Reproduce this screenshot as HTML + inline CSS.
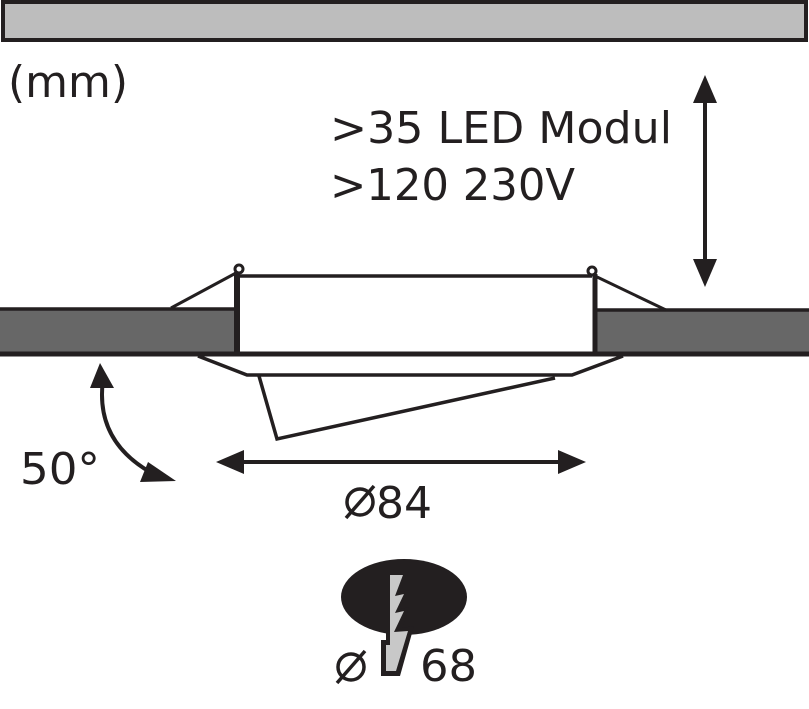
<!DOCTYPE html>
<html><head><style>html,body{margin:0;padding:0;background:#fff}svg{display:block}</style></head><body>
<svg width="809" height="709" viewBox="0 0 809 709" xmlns="http://www.w3.org/2000/svg" font-family="'DejaVu Sans Condensed','DejaVu Sans','Liberation Sans',sans-serif" fill="#231f20">
<rect x="3" y="2" width="803" height="38" fill="#bdbdbd" stroke="#231f20" stroke-width="4"/>
<text x="8" y="97" font-size="44" textLength="120" lengthAdjust="spacingAndGlyphs">(mm)</text>
<text x="330" y="143" font-size="44" textLength="342" lengthAdjust="spacingAndGlyphs">&gt;35 LED Modul</text>
<text x="330" y="200" font-size="44" textLength="245" lengthAdjust="spacingAndGlyphs">&gt;120 230V</text>
<line x1="705" y1="95" x2="705" y2="268" stroke="#231f20" stroke-width="4"/>
<polygon points="705,75 693,103 717,103"/>
<polygon points="705,287 693,259 717,259"/>
<rect x="0" y="309" width="236" height="45" fill="#676767"/>
<rect x="597" y="310" width="212" height="44" fill="#676767"/>
<line x1="0" y1="309" x2="236" y2="309" stroke="#231f20" stroke-width="3.5"/>
<line x1="597" y1="310" x2="809" y2="310" stroke="#231f20" stroke-width="3.5"/>
<line x1="0" y1="354" x2="809" y2="354" stroke="#231f20" stroke-width="5"/>
<line x1="240" y1="276" x2="592" y2="276" stroke="#231f20" stroke-width="3.5"/>
<line x1="237" y1="272" x2="237" y2="355" stroke="#231f20" stroke-width="6"/>
<line x1="595" y1="274" x2="595" y2="355" stroke="#231f20" stroke-width="5"/>
<circle cx="239" cy="269" r="4" fill="#fff" stroke="#231f20" stroke-width="3"/>
<circle cx="592" cy="271" r="4" fill="#fff" stroke="#231f20" stroke-width="3"/>
<line x1="236" y1="273" x2="171" y2="308" stroke="#231f20" stroke-width="3"/>
<line x1="595" y1="276" x2="666" y2="310" stroke="#231f20" stroke-width="3"/>
<polyline points="198,356 247,375 572,375 623,356" fill="none" stroke="#231f20" stroke-width="3.5"/>
<polyline points="259,376 277,439 555,378" fill="none" stroke="#231f20" stroke-width="3.5"/>
<path d="M103,380 Q95,440 150,472" fill="none" stroke="#231f20" stroke-width="4"/>
<polygon points="100,363 90,388 114,388"/>
<polygon points="176,481 148,462 140,482"/>
<text x="20" y="484" font-size="44" textLength="80" lengthAdjust="spacingAndGlyphs">50°</text>
<line x1="235" y1="462" x2="568" y2="462" stroke="#231f20" stroke-width="4"/>
<polygon points="216,462 244,450 244,474"/>
<polygon points="586,462 558,450 558,474"/>
<circle cx="360" cy="502" r="13" fill="none" stroke="#231f20" stroke-width="3.5"/>
<line x1="346" y1="518" x2="374" y2="486" stroke="#231f20" stroke-width="3.5"/>
<text x="376" y="518" font-size="44" textLength="56" lengthAdjust="spacingAndGlyphs">84</text>
<ellipse cx="404" cy="597" rx="63" ry="38"/>
<polygon points="386,571 409,571 401,592 409,590 401,609 409,607 402,628 414,626 400,676 381,676 381,640 386,640"/>
<polygon points="390,575 403,575 395,596 404,594 395,613 404,611 394,632 408,631 396,671 386,671 386,645 390,645" fill="#c8c8c8"/>
<circle cx="351" cy="667" r="13" fill="none" stroke="#231f20" stroke-width="3.5"/>
<line x1="337" y1="683" x2="365" y2="651" stroke="#231f20" stroke-width="3.5"/>
<text x="420" y="681" font-size="44" textLength="57" lengthAdjust="spacingAndGlyphs">68</text>
</svg>
</body></html>
